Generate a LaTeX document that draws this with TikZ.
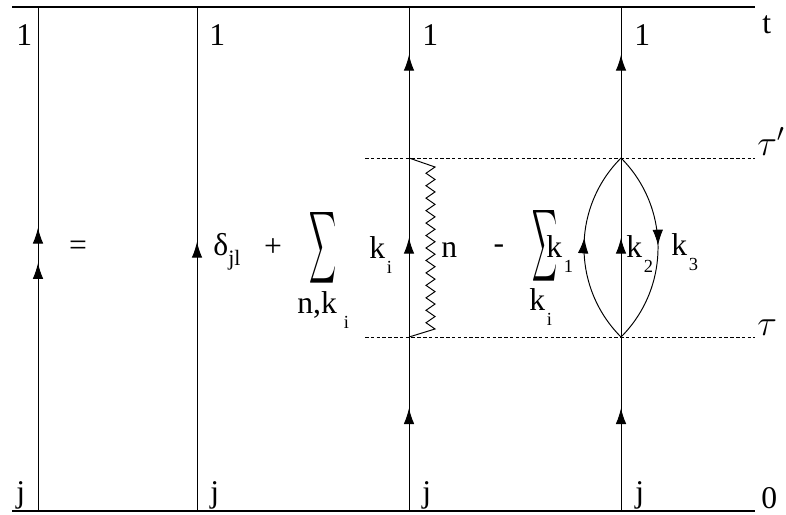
\documentclass[tikz,border=0pt]{standalone}
\usepackage{fontspec}
\setmainfont{Liberation Serif}
\usepackage{graphicx}
\usepackage{tikz}
\usetikzlibrary{arrows.meta,decorations.markings,calc,positioning}
\newcommand{\lowsub}[2][1pt]{\kern#1\raisebox{-9pt}{\fontsize{10.5}{12}\selectfont #2}}

\begin{document}
\begin{tikzpicture}[x=0.02cm,y=-0.02cm,>=Latex,
  world/.style={line width=0.55pt},
  edge/.style={line width=0.8pt},
  slice/.style={line width=0.5pt,dash pattern=on 2pt off 1.3pt},
  lab/.style={inner sep=0pt,anchor=base west,font=\fontsize{18}{21}\selectfont},
  arr/.style={postaction={decorate,decoration={markings,
      mark=at position #1 with {\arrow{Latex[length=9pt,width=6pt]}}}}}]
\useasboundingbox (0,0) rectangle (786,514);
% time axis ends
\coordinate (tl) at (12,7); \coordinate (tr) at (755,7);
\coordinate (bl) at (12,511); \coordinate (br) at (755,511);
\draw[edge] (tl) -- (tr);
\draw[edge] (bl) -- (br);
\node[lab] (t) at (762,33) {t};
\node[lab,anchor=south west] (zero) at (761,509) {0};
% world lines
\foreach \n/\x in {a/38,b/197,c/409,d/621}{
  \coordinate (\n0) at (\x,511); \coordinate (\n1) at (\x,7);
}
\draw[world,arr=0.492,arr=0.562] (a0) -- (a1);
\draw[world,arr=0.534] (b0) -- (b1);
\draw[world,arr=0.204,arr=0.542,arr=0.905] (c0) -- (c1);
\draw[world,arr=0.204,arr=0.542,arr=0.905] (d0) -- (d1);
% end labels
\node[lab] (topa) at (16,45) {1};
\node[lab,anchor=south west] (bota) at (16,510) {j};
\node[lab] (topb) at (209,45) {1};
\node[lab,anchor=south west] (botb) at (210,510) {j};
\node[lab] (topc) at (422,45) {1};
\node[lab,anchor=south west] (botc) at (422,510) {j};
\node[lab] (topd) at (634,45) {1};
\node[lab,anchor=south west] (botd) at (635,510) {j};
% times tau and tau'
\coordinate (s1l) at (365,158); \coordinate (s1r) at (755,158);
\coordinate (s0l) at (365,337); \coordinate (s0r) at (755,337);
\draw[slice] (s1l) -- (s1r);
\draw[slice] (s0l) -- (s0r);
\node[lab,font=\fontsize{22}{24}\selectfont] (taup) at (757,155) {$\tau'$};
\node[lab,font=\fontsize{22}{24}\selectfont] (tau) at (757,335) {$\tau$};
% vertices
\coordinate (cv1) at (409,158); \coordinate (cv0) at (409,337);
\coordinate (dv1) at (621,158); \coordinate (dv0) at (621,337);
% interaction line n
\draw[world] (cv1) -- (435,167)
  \foreach \k in {1,...,13}{ -- (426,{167+12.46*\k-6.23}) -- (435,{167+12.46*\k}) } -- (cv0);
% bubble k1 k3
\draw[world,arr=0.55] (dv0) to[bend left=45] (dv1);
\draw[world,arr=0.49] (dv1) to[bend left=45] (dv0);
% right hand side
\node[lab,anchor=center] (eq) at (78,248) {=};
\node[lab] (delta) at (213,255) {δ\raisebox{-6pt}{\fontsize{12.5}{14}\selectfont jl}};
\node[lab,anchor=center] (plus) at (273,248) {+};
\node[inner sep=0pt] (sum1) at (323,248) {\resizebox{0.54cm}{1.06cm}{$\displaystyle\sum$}};
\node[lab] (nk) at (297,313) {n,k\lowsub[4pt]{i}};
\node[lab] (ki) at (369,258) {k\lowsub{i}};
\node[lab] (n) at (441,257) {n};
\node[lab,anchor=center] (minus) at (499,249) {-};
\node[inner sep=0pt] (sum2) at (545,246) {\resizebox{0.5cm}{1.06cm}{$\displaystyle\sum$}};
\node[lab] (k1) at (546,257) {k\lowsub{1}};
\node[lab] (kii) at (529,310) {k\lowsub{i}};
\node[lab] (k2) at (626,257) {k\lowsub{2}};
\node[lab] (k3) at (671,255) {k\lowsub{3}};
\end{tikzpicture}
\end{document}
